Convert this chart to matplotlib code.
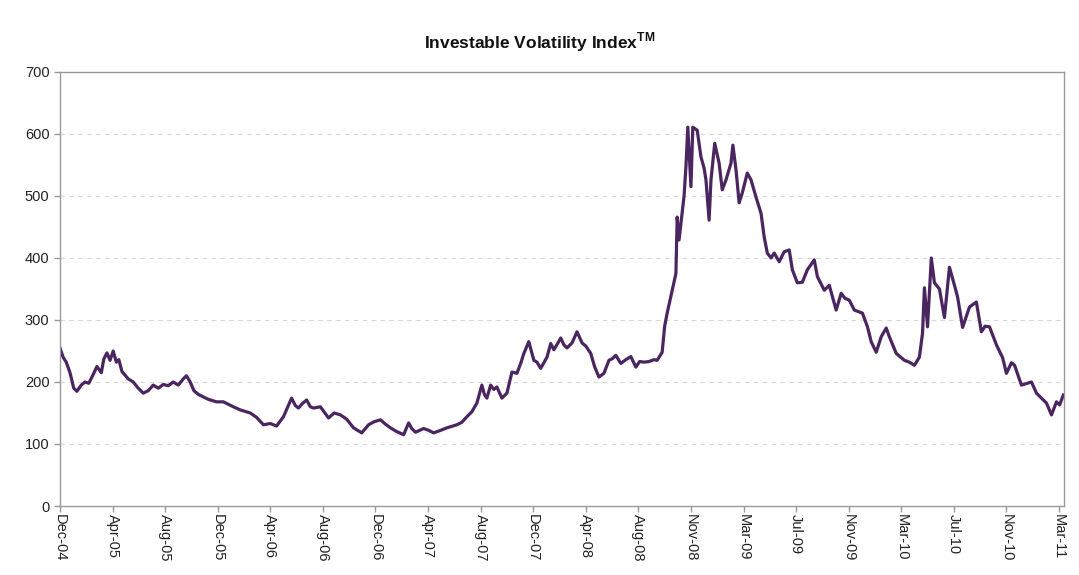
import numpy as np
import matplotlib.pyplot as plt

plt.rcParams["font.family"] = ["Liberation Sans", "DejaVu Sans"]
plt.rcParams["mathtext.fontset"] = "custom"
plt.rcParams["mathtext.bf"] = "Liberation Sans:bold"
plt.rcParams["mathtext.rm"] = "Liberation Sans"

# trading-day index and index level
day = [0, 5, 10, 16, 22, 27, 34, 40, 46, 53, 59, 66, 70, 75, 80, 85, 90, 94, 99, 109,
       117, 125, 133, 141, 149, 157, 165, 173, 181, 189, 197, 202, 208, 214, 221, 229, 237, 250, 261, 269,
       277, 288, 304, 314, 325, 336, 346, 357, 370, 376, 381, 387, 394, 400, 405, 416, 429, 438, 448, 458,
       469, 482, 493, 502, 512, 520, 528, 538, 549, 557, 562, 568, 581, 589, 597, 608, 618, 634, 642, 650,
       658, 666, 674, 678, 682, 688, 693, 698, 706, 714, 722, 730, 736, 741, 749, 757, 762, 768, 778, 784,
       789, 795, 800, 805, 810, 818, 826, 834, 840, 848, 854, 861, 869, 877, 883, 888, 896, 904, 912, 920,
       926, 933, 941, 949, 954, 962, 966, 970, 978, 984, 986, 989, 992, 997, 1000, 1003, 1008, 1011, 1018, 1024,
       1029, 1032, 1037, 1040, 1046, 1053, 1058, 1064, 1072, 1075, 1080, 1085, 1090, 1098, 1104, 1112, 1120, 1125, 1130, 1136,
       1141, 1149, 1157, 1165, 1170, 1178, 1186, 1194, 1205, 1210, 1221, 1229, 1240, 1248, 1254, 1261, 1269, 1282, 1290, 1296,
       1304, 1312, 1320, 1325, 1336, 1349, 1357, 1365, 1373, 1378, 1381, 1386, 1392, 1397, 1405, 1413, 1421, 1429, 1434, 1442,
       1453, 1464, 1472, 1478, 1485, 1496, 1506, 1512, 1520, 1525, 1536, 1552, 1560, 1576, 1584, 1592, 1597, 1603]
level = [255, 240, 232, 215, 190, 185, 195, 200, 198, 212, 225, 215, 237, 247, 235, 250, 232, 236, 217, 205,
         200, 190, 182, 186, 195, 190, 196, 194, 200, 195, 205, 210, 200, 186, 180, 176, 172, 168, 168, 164,
         160, 155, 150, 143, 131, 133, 129, 144, 174, 162, 158, 165, 171, 160, 158, 160, 142, 150, 147, 140,
         126, 118, 131, 136, 139, 132, 126, 120, 115, 134, 125, 119, 125, 122, 118, 122, 126, 131, 135, 144,
         152, 166, 195, 180, 174, 195, 188, 192, 174, 182, 216, 214, 230, 246, 265, 235, 232, 222, 240, 262,
         252, 262, 271, 260, 255, 263, 281, 263, 258, 246, 225, 208, 214, 235, 238, 243, 230, 236, 241, 224,
         233, 232, 233, 236, 235, 248, 290, 311, 348, 375, 466, 429, 456, 500, 547, 611, 515, 611, 606, 563,
         545, 526, 461, 526, 585, 553, 510, 526, 553, 582, 542, 489, 505, 537, 526, 498, 472, 434, 408, 400,
         408, 394, 410, 413, 381, 360, 361, 381, 397, 370, 348, 356, 316, 343, 335, 332, 316, 311, 289, 265,
         248, 273, 287, 273, 246, 235, 232, 227, 240, 279, 352, 289, 400, 360, 350, 304, 385, 356, 337, 288,
         321, 329, 281, 290, 289, 260, 239, 214, 231, 227, 195, 200, 182, 166, 147, 168, 163, 179]

tick_labels = ["Dec-04", "Apr-05", "Aug-05", "Dec-05", "Apr-06", "Aug-06", "Dec-06", "Apr-07",
               "Aug-07", "Dec-07", "Apr-08", "Aug-08", "Nov-08", "Mar-09", "Jul-09", "Nov-09",
               "Mar-10", "Jul-10", "Nov-10", "Mar-11"]
days_per_tick = 84

fig = plt.figure(figsize=(10.79, 5.75), dpi=100)
ax = fig.add_axes([0.0556, 0.12, 0.9305, 0.7548])

ax.plot(day, level, color="#4a2560", linewidth=2.3, solid_joinstyle="round")

ax.set_xlim(0, 1604)
ax.set_ylim(0, 700)
ax.set_yticks(np.arange(0, 701, 100))
ax.set_xticks(np.arange(len(tick_labels)) * days_per_tick)
ax.set_xticklabels(tick_labels, rotation=-90, va="top", ha="center")

for y in range(100, 700, 100):
    ax.axhline(y, color="#d8d8d8", linewidth=0.8, linestyle=(0, (4, 4)), zorder=0)

for s in ax.spines.values():
    s.set_color("#9a9a9a")
    s.set_linewidth(1.0)
ax.tick_params(axis="both", colors="#9a9a9a", labelcolor="#222222", labelsize=10.5,
               length=4, width=1.0, direction="out")
ax.tick_params(axis="x", pad=2)

fig.text(0.5, 0.927, r"Investable Volatility Index$^{\mathbf{TM}}$",
         ha="center", va="center", fontsize=12.5, fontweight="bold", color="#111111")

fig.savefig("out.png", dpi=100)
